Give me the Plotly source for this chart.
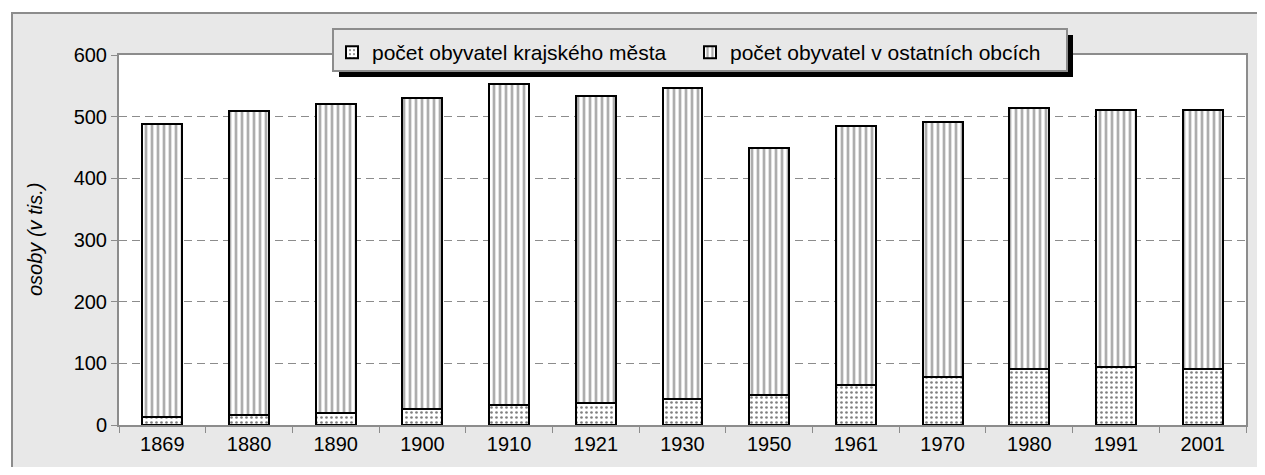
import plotly.graph_objects as go

years = ["1869", "1880", "1890", "1900", "1910", "1921", "1930", "1950", "1961", "1970", "1980", "1991", "2001"]
city = [13.5, 17, 20, 26, 32.5, 36, 42, 49, 65.5, 78.5, 90.5, 94, 90.5]
totals = [488.5, 510, 520.5, 531, 553, 533, 546, 449, 484.5, 491, 513.5, 511, 511]
others = [round(t - c, 1) for t, c in zip(totals, city)]
series_names = ["počet obyvatel krajského města", "počet obyvatel v ostatních obcích"]
y_title = "osoby (v tis.)"

FONT = "Arial, Liberation Sans, sans-serif"
OFF = 8  # page body margin
# plot area in screen pixels
PX0, PX1, PY0, PY1 = 119, 1246, 55, 425
W, H = 1265 - OFF, 475 - 2 * OFF
L, T = PX0 - OFF, PY0 - OFF
R = W - (PX1 - OFF)
B = H - (PY1 - OFF)
PW, PH = PX1 - PX0, PY1 - PY0


def px(x):
    return (x - PX0) / PW


def py(y):
    return (PY1 - y) / PH


fig = go.Figure()
fig.add_trace(go.Bar(
    x=years, y=city, name=series_names[0],
    marker=dict(color="white", line=dict(color="black", width=2),
                pattern=dict(shape=".", fgcolor="#000000", bgcolor="white", size=5, solidity=0.22)),
))
fig.add_trace(go.Bar(
    x=years, y=others, name=series_names[1],
    marker=dict(color="white", line=dict(color="black", width=2),
                pattern=dict(shape="|", fgcolor="#5c5c5c", bgcolor="white", size=6, solidity=0.45)),
))

shapes = [
    dict(type="rect", xref="paper", yref="paper", x0=px(12), y0=py(13), x1=px(1300), y1=py(520),
         fillcolor="#e8e8e8", line=dict(color="#8c8c8c", width=2), layer="below"),
    dict(type="rect", xref="paper", yref="paper", x0=0, y0=0, x1=1, y1=1,
         fillcolor="white", line=dict(width=0), layer="below"),
    dict(type="rect", xref="paper", yref="paper", x0=px(339), y0=py(77), x1=px(1073), y1=py(35),
         fillcolor="black", line=dict(width=0), layer="above"),
    dict(type="rect", xref="paper", yref="paper", x0=px(333), y0=py(71), x1=px(1067), y1=py(29),
         fillcolor="#e8e8e8", line=dict(color="#8c8c8c", width=2), layer="above"),
]

fig.update_layout(
    width=W, height=H,
    margin=dict(l=L, r=R, t=T, b=B, autoexpand=False),
    barmode="stack", bargap=0.54,
    paper_bgcolor="white", plot_bgcolor="rgba(0,0,0,0)",
    font=dict(family=FONT, size=20, color="black"),
    showlegend=True,
    legend=dict(orientation="h", x=px(332), y=py(32), xanchor="left", yanchor="top",
                bgcolor="rgba(0,0,0,0)", borderwidth=0, font=dict(size=21, family=FONT),
                itemwidth=30, traceorder="normal", entrywidth=313),
    shapes=shapes,
    annotations=[dict(text="<i>" + y_title + "</i>", xref="paper", yref="paper", x=px(35), y=0.5,
                      textangle=-90, showarrow=False, font=dict(size=20, family=FONT),
                      xanchor="center", yanchor="middle")],
    xaxis=dict(type="category", showline=True, linecolor="#8c8c8c", linewidth=2, mirror=True,
               ticks="outside", tickson="boundaries", ticklen=6, tickcolor="#8c8c8c",
               showgrid=False, tickfont=dict(size=20), automargin=False),
    yaxis=dict(range=[0, 600], dtick=100, showline=True, linecolor="#8c8c8c", linewidth=2, mirror=True,
               ticks="outside", ticklen=6, tickcolor="#8c8c8c", zeroline=False,
               showgrid=True, gridcolor="#8c8c8c", griddash="8px,5px", gridwidth=1,
               tickfont=dict(size=20), automargin=False),
)

fig.write_html("out.html")
